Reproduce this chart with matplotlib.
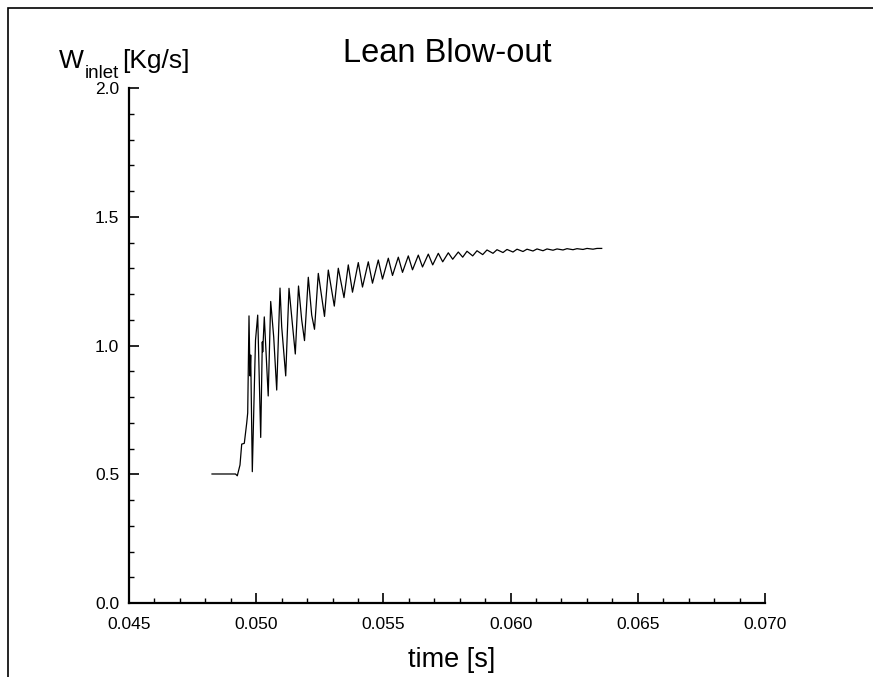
import matplotlib
matplotlib.use("Agg")
import matplotlib.pyplot as plt
from matplotlib.ticker import MultipleLocator, FormatStrFormatter
from matplotlib.patches import Rectangle

plt.rcParams['font.family'] = ['Liberation Sans', 'DejaVu Sans']

time = [
    0.048263, 0.049186, 0.049257, 0.049363, 0.049430, 0.049532, 0.049627, 0.049666,
    0.049717, 0.049756, 0.049784, 0.049847, 0.049933, 0.049973, 0.050059, 0.050177,
    0.050240, 0.050256, 0.050318, 0.050472, 0.050570, 0.050688, 0.050806, 0.050936,
    0.051002, 0.051160, 0.051289, 0.051419, 0.051537, 0.051663, 0.051789, 0.051899,
    0.052048, 0.052182, 0.052292, 0.052441, 0.052685, 0.052834, 0.053070, 0.053227,
    0.053451, 0.053620, 0.053785, 0.054013, 0.054178, 0.054406, 0.054571, 0.054799,
    0.054965, 0.055193, 0.055358, 0.055586, 0.055751, 0.055979, 0.056144, 0.056372,
    0.056537, 0.056765, 0.056938, 0.057158, 0.057331, 0.057551, 0.057724, 0.057944,
    0.058117, 0.058286, 0.058510, 0.058679, 0.058903, 0.059072, 0.059308, 0.059465,
    0.059701, 0.059858, 0.060094, 0.060252, 0.060487, 0.060645, 0.060880, 0.061038,
    0.061274, 0.061431, 0.061667, 0.061824, 0.062060, 0.062217, 0.062453, 0.062610,
    0.062846, 0.063003, 0.063239, 0.063396, 0.063581,
]
w_inlet = [
    0.501, 0.501, 0.494, 0.536, 0.617, 0.620, 0.699, 0.738,
    1.115, 0.882, 0.963, 0.510, 0.866, 1.021, 1.118, 0.643,
    1.014, 0.975, 1.111, 0.804, 1.171, 1.033, 0.827, 1.223,
    1.073, 0.882, 1.222, 1.087, 0.967, 1.231, 1.099, 1.019,
    1.265, 1.118, 1.063, 1.280, 1.113, 1.293, 1.153, 1.300,
    1.186, 1.313, 1.207, 1.322, 1.227, 1.325, 1.242, 1.332,
    1.258, 1.339, 1.272, 1.343, 1.284, 1.348, 1.294, 1.351,
    1.305, 1.355, 1.313, 1.358, 1.325, 1.360, 1.335, 1.363,
    1.343, 1.366, 1.348, 1.368, 1.353, 1.371, 1.358, 1.372,
    1.361, 1.373, 1.363, 1.374, 1.365, 1.374, 1.367, 1.375,
    1.368, 1.375, 1.370, 1.375, 1.371, 1.376, 1.372, 1.376,
    1.373, 1.377, 1.374, 1.377, 1.377,
]

fig = plt.figure(figsize=(8.73, 6.77), dpi=100)
ax = fig.add_axes([129 / 873, 74 / 677, 636 / 873, 515 / 677])

ax.plot(time, w_inlet, color="black", linewidth=0.9, solid_joinstyle="round")

ax.set_xlim(0.045, 0.070)
ax.set_ylim(0.0, 2.0)
ax.xaxis.set_major_locator(MultipleLocator(0.005))
ax.xaxis.set_minor_locator(MultipleLocator(0.001))
ax.yaxis.set_major_locator(MultipleLocator(0.5))
ax.yaxis.set_minor_locator(MultipleLocator(0.1))
ax.xaxis.set_major_formatter(FormatStrFormatter("%.3f"))
ax.yaxis.set_major_formatter(FormatStrFormatter("%.1f"))

for s in ["top", "right"]:
    ax.spines[s].set_visible(False)
for s in ["left", "bottom"]:
    ax.spines[s].set_linewidth(1.6)

ax.tick_params(which="major", direction="in", length=7.5, width=1.2, labelsize=12.5)
ax.tick_params(which="minor", direction="in", length=3.8, width=1.0)
ax.tick_params(axis="x", which="major", pad=10)
ax.tick_params(axis="y", which="major", pad=7)

fig.text(447 / 873, 1 - 62 / 677, "Lean Blow-out", ha="center", va="baseline", fontsize=23.5)

# y label: W with a big subscript, as separate pieces
fig.text(59 / 873, 1 - 68 / 677, "W", ha="left", va="baseline", fontsize=19)
fig.text(85 / 873, 1 - 78 / 677, "inlet", ha="left", va="baseline", fontsize=13.5)
fig.text(122 / 873, 1 - 68 / 677, "[Kg/s]", ha="left", va="baseline", fontsize=19)

fig.text(452 / 873, 1 - 667 / 677, "time [s]", ha="center", va="baseline", fontsize=19.5)

# outer frame
fig.patches.append(Rectangle((8 / 873, -0.1), 1.2, 1.1 - 8 / 677, transform=fig.transFigure,
                             fill=False, edgecolor="black", linewidth=1.2))

fig.savefig("out.png", dpi=100)
